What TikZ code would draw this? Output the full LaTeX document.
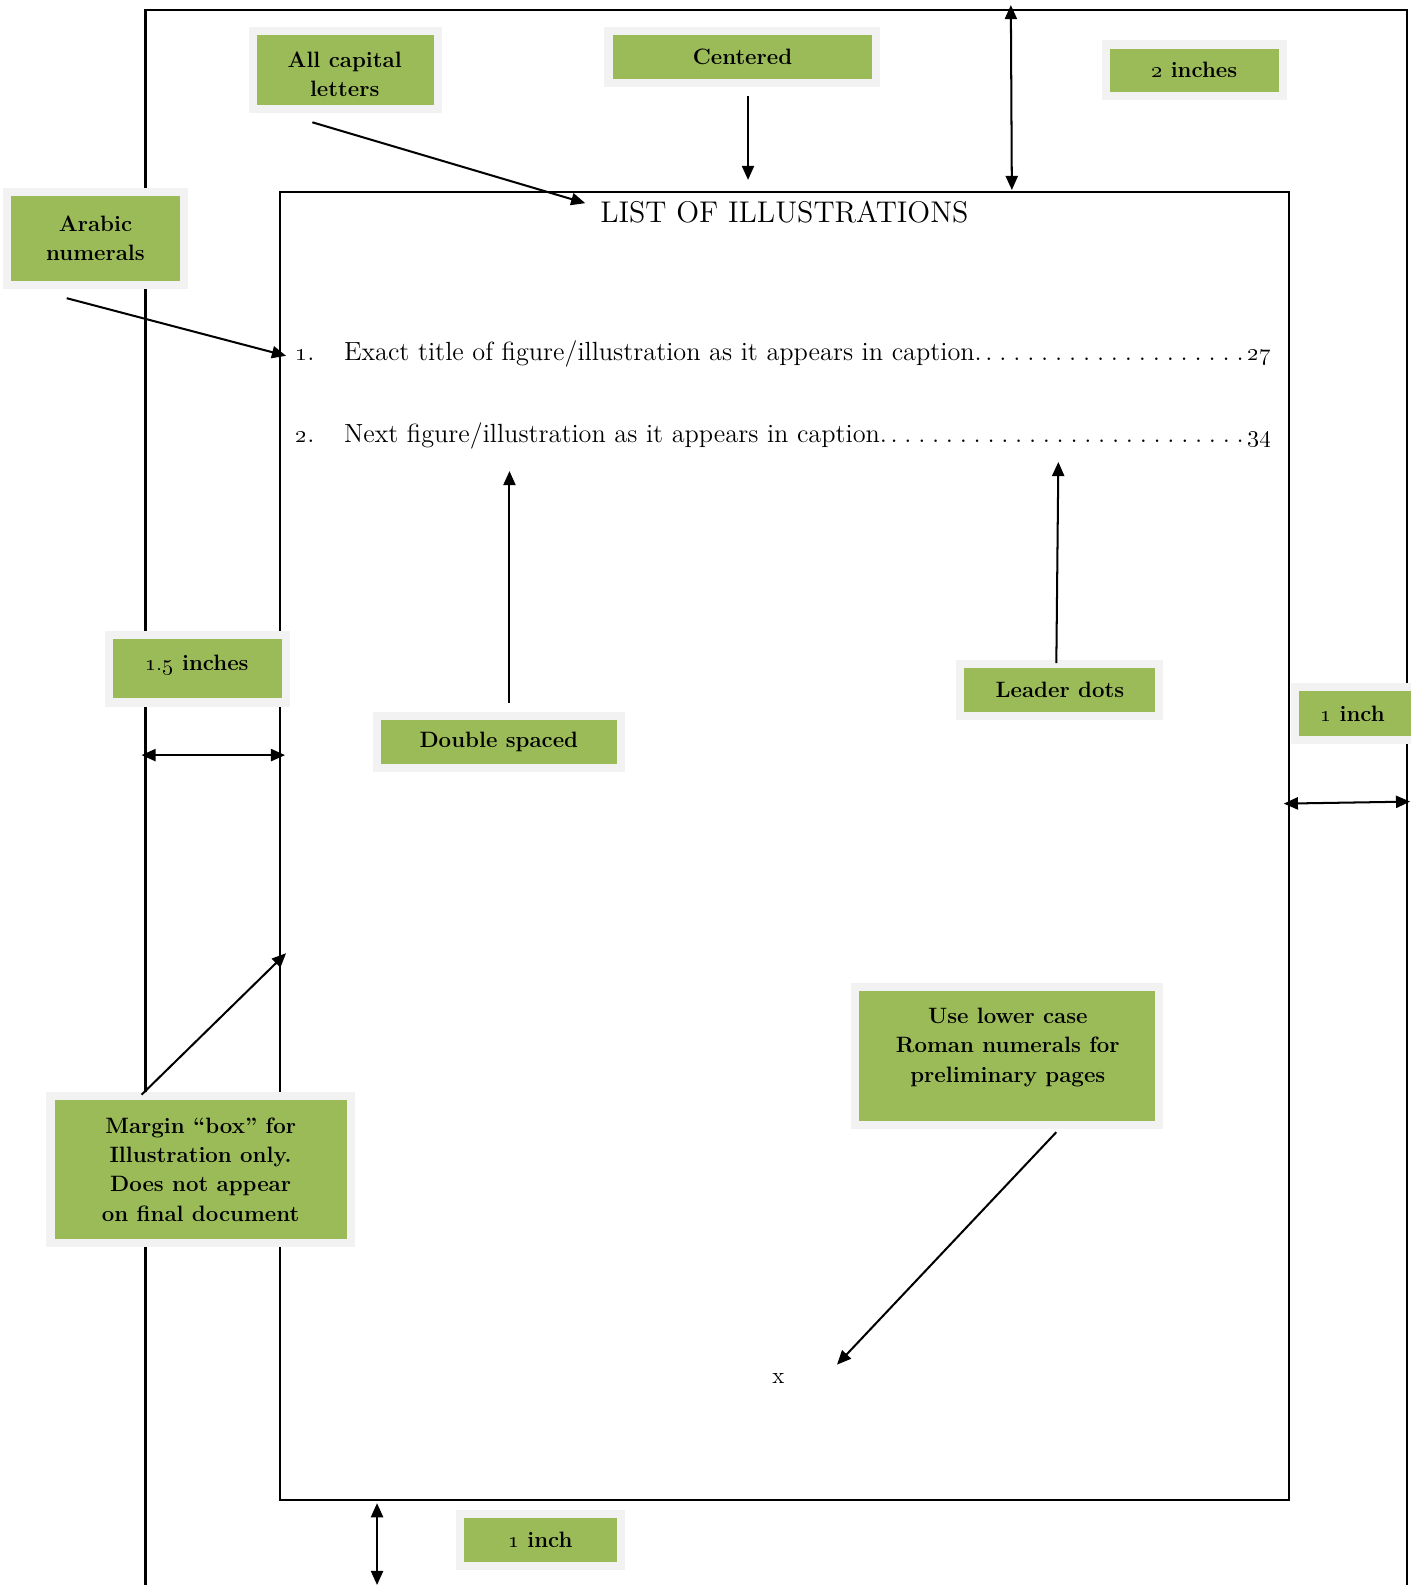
\documentclass[tikz,border=0pt]{standalone}
\usetikzlibrary{arrows.meta}
\definecolor{lblgreen}{HTML}{9BBB59}
\definecolor{lblframe}{HTML}{F2F2F2}
\newcommand{\bosn}[1]{{\fontseries{b}\selectfont\oldstylenums{#1}}}
\newcommand{\myleaders}{\xleaders\hbox to 6.7pt{\hss.\hss}\hfill}
\begin{document}
\begin{tikzpicture}[x=0.5pt,y=-0.5pt,
  lblbox/.style={fill=lblgreen, preaction={draw=lblframe, line width=8pt}, inner sep=0pt},
  lbltext/.style={font=\fontsize{11}{14.5}\selectfont\bfseries, align=center, inner sep=0pt},
  conn/.style={line width=1pt, -{Triangle[length=7pt,width=6pt]}},
  dconn/.style={line width=1pt, {Triangle[length=7pt,width=6pt]}-{Triangle[length=7pt,width=6pt]}},
  pageline/.style={line width=1.2pt},
  pagetext/.style={font=\fontsize{13}{15}\selectfont, inner sep=0pt, anchor=base west}]
\useasboundingbox[fill=white] (0,0) rectangle (1395,1568);
% page outlines
\draw[pageline] (144,1575) -- (144,10) -- (1392,10) -- (1392,1575);
\draw[pageline] (277,190) rectangle (1275,1484);
% page content
\node[font=\fontsize{14.8}{17}\selectfont, inner sep=0pt] (title) at (776,210) {LIST OF ILLUSTRATIONS};
\node[pagetext] (n1) at (292,357) {\oldstylenums{1}.};
\node[pagetext] (l1) at (340,357) {\hbox to 458.5pt{Exact title of figure/illustration as it appears in caption.\myleaders\oldstylenums{27}}};
\node[pagetext] (n2) at (292,438) {\oldstylenums{2}.};
\node[pagetext] (l2) at (340,438) {\hbox to 458.5pt{Next figure/illustration as it appears in caption.\myleaders\oldstylenums{34}}};
\node[font=\fontsize{11.5}{13}\selectfont, inner sep=0pt] (pagex) at (770,1364) {x};
% labels
\node[lblbox, minimum width=87.5pt, minimum height=34.5pt] (capital) at (341.5,69.5) {};
\begin{scope}
  \clip (capital.south west) rectangle (capital.north east);
  \node[lbltext] (capitaltext) at (341,73.5) {All capital\\letters};
\end{scope}
\node[lblbox, lbltext, minimum width=128.5pt, minimum height=21.5pt] (centered) at (734.5,56.5) {Centered};
\node[lblbox, lbltext, minimum width=83.5pt, minimum height=21.5pt] (twoin) at (1181.5,69.5) {\bosn{2} inches};
\node[lblbox, lbltext, minimum width=83.5pt, minimum height=42pt] (arabic) at (94.5,236) {Arabic\\numerals};
\node[lblbox, minimum width=83.5pt, minimum height=29.5pt] (onefive) at (195.5,661.5) {};
\node[lbltext] (onefivetext) at (195,658) {\bosn{1.5} inches};
\node[lblbox, lbltext, minimum width=116.5pt, minimum height=22pt] (double) at (493.5,734) {Double spaced};
\node[lblbox, lbltext, minimum width=94.5pt, minimum height=21.5pt] (leader) at (1048.5,682.5) {Leader dots};
\node[lblbox, minimum width=58.5pt, minimum height=22pt] (oneright) at (1343.5,706) {};
\node[lbltext] (onerighttext) at (1338,706) {\bosn{1} inch};
\node[lblbox, minimum width=146.5pt, minimum height=64.5pt] (lower) at (996.5,1044.5) {};
\node[lbltext] (lowertext) at (997,1036) {Use lower case\\Roman numerals for\\preliminary pages};
\node[lblbox, lbltext, minimum width=144.5pt, minimum height=69pt] (margin) at (198.5,1157) {Margin ``box'' for\\Illustration only.\\Does not appear\\on final document};
\node[lblbox, lbltext, minimum width=75.5pt, minimum height=21.5pt] (onebottom) at (534.5,1523.5) {\bosn{1} inch};
% connector end points
\coordinate (capA) at (309,121);   \coordinate (capB) at (579,201);
\coordinate (cenA) at (740,95);    \coordinate (cenB) at (740,178);
\coordinate (twoA) at (1000,5);    \coordinate (twoB) at (1001,188);
\coordinate (araA) at (66,295);    \coordinate (araB) at (283,352);
\coordinate (dblA) at (504,695);   \coordinate (dblB) at (504,466);
\coordinate (ldrA) at (1045,656);  \coordinate (ldrB) at (1047,457);
\coordinate (ofA) at (140,747);    \coordinate (ofB) at (282,747);
\coordinate (orA) at (1270,795);   \coordinate (orB) at (1395,793);
\coordinate (mrgA) at (140,1083);  \coordinate (mrgB) at (283,943);
\coordinate (lowA) at (1045,1120); \coordinate (lowB) at (828,1350);
\coordinate (obA) at (373,1487);   \coordinate (obB) at (373,1568);
% connectors
\draw[conn] (capA) -- (capB);
\draw[conn] (cenA) -- (cenB);
\draw[dconn] (twoA) -- (twoB);
\draw[conn] (araA) -- (araB);
\draw[conn] (dblA) -- (dblB);
\draw[conn] (ldrA) -- (ldrB);
\draw[dconn] (ofA) -- (ofB);
\draw[dconn] (orA) -- (orB);
\draw[conn] (mrgA) -- (mrgB);
\draw[conn] (lowA) -- (lowB);
\draw[dconn] (obA) -- (obB);
\end{tikzpicture}
\end{document}
